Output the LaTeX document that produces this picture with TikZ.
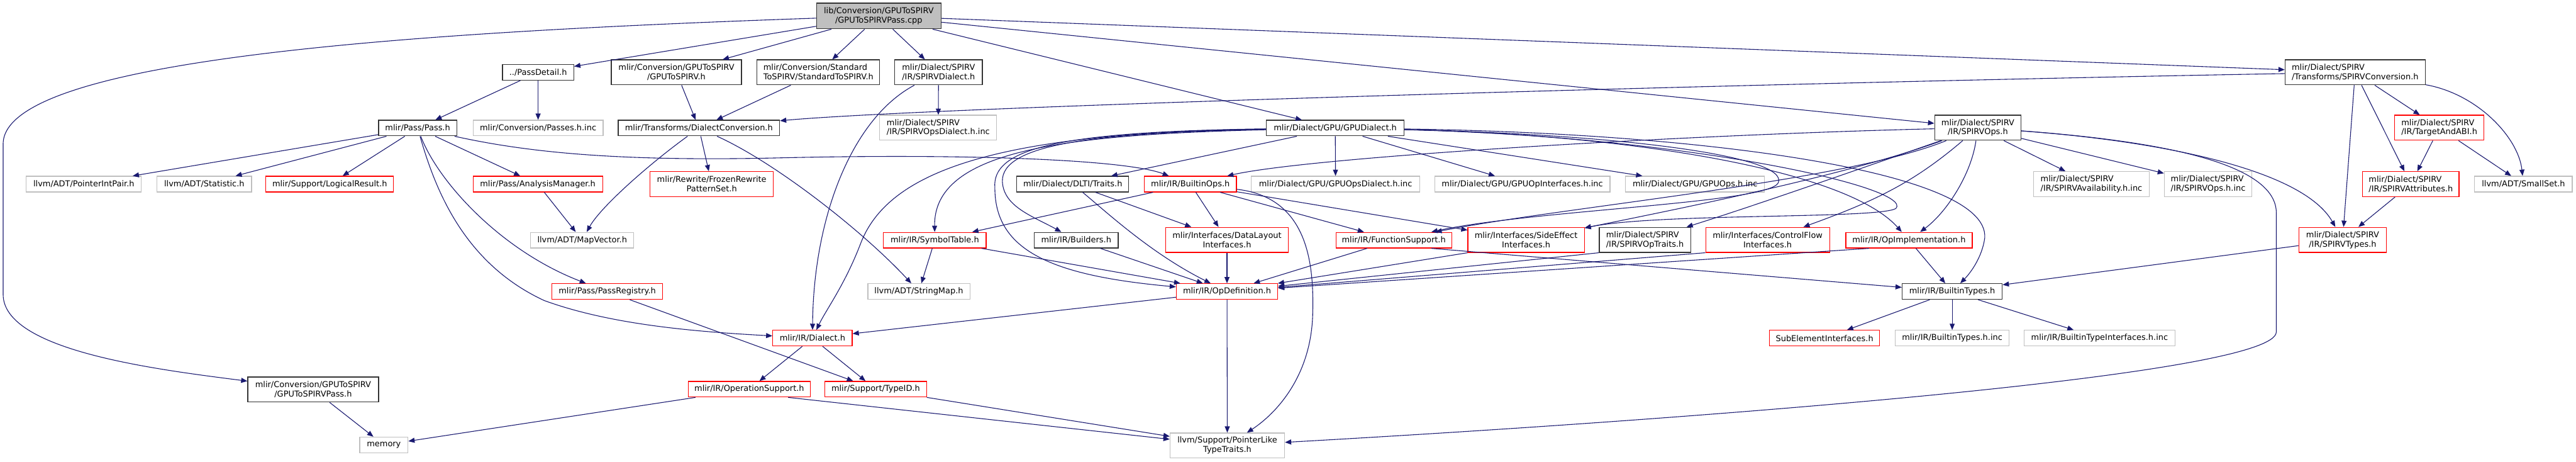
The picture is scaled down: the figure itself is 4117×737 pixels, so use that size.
\documentclass[tikz,border=0pt]{standalone}
\usepackage{fontspec}
\setmainfont{DejaVu Sans}
\usetikzlibrary{arrows.meta}
\definecolor{edgeblue}{HTML}{191970}
\definecolor{greyb}{HTML}{BFBFBF}
\definecolor{darkb}{HTML}{333333}
\begin{document}
\begin{tikzpicture}[x=1pt,y=-1pt,
  nbox/.style={rectangle, inner sep=0pt, align=center, line width=1.2pt, font=\fontsize{13}{15}\selectfont},
  blk/.style={nbox, draw=darkb},
  gry/.style={nbox, draw=greyb},
  rd/.style={nbox, draw=red},
  lft/.style={align=left},
  one/.style={minimum height=25},
  two/.style={minimum height=40},
  dep/.style={draw=edgeblue, line width=1.1pt, -{Triangle[length=10pt,width=8pt]}},
]
\useasboundingbox (0,0) rectangle (4117,737);

% ---- nodes ----
\node[blk, fill=greyb, minimum width=199, minimum height=41] (main) at (1404.5,25.5) {lib/Conversion/GPUToSPIRV\\/GPUToSPIRVPass.cpp};
\node[blk, one, minimum width=114] (pdet) at (860,115.5) {../PassDetail.h};
\node[blk, two, minimum width=208] (g2sh) at (1081,115.5) {mlir/Conversion/GPUToSPIRV\\/GPUToSPIRV.h};
\node[blk, two, lft, minimum width=196] (s2s) at (1308,115.5) {mlir/Conversion/Standard\\ToSPIRV/StandardToSPIRV.h};
\node[blk, two, lft, minimum width=140] (spd) at (1500,115.5) {mlir/Dialect/SPIRV\\/IR/SPIRVDialect.h};
\node[blk, two, lft, minimum width=224] (spconv) at (3764,115.5) {mlir/Dialect/SPIRV\\/Transforms/SPIRVConversion.h};

\node[blk, one, minimum width=125] (pass) at (667.5,204.5) {mlir/Pass/Pass.h};
\node[gry, one, minimum width=208] (passinc) at (860,204.5) {mlir/Conversion/Passes.h.inc};
\node[blk, one, minimum width=258] (dconv) at (1117,204.5) {mlir/Transforms/DialectConversion.h};
\node[gry, two, lft, minimum width=187] (spodinc) at (1499.5,204) {mlir/Dialect/SPIRV\\/IR/SPIRVOpsDialect.h.inc};
\node[blk, one, minimum width=220] (gpud) at (2134,204.5) {mlir/Dialect/GPU/GPUDialect.h};
\node[blk, two, minimum width=138] (spops) at (3161,204) {mlir/Dialect/SPIRV\\/IR/SPIRVOps.h};
\node[rd, two, lft, minimum width=143] (tabi) at (3898.5,204) {mlir/Dialect/SPIRV\\/IR/TargetAndABI.h};

\node[gry, one, minimum width=184] (pip) at (134,294) {llvm/ADT/PointerIntPair.h};
\node[gry, one, minimum width=151] (stat) at (326.5,294) {llvm/ADT/Statistic.h};
\node[rd, one, minimum width=204] (lres) at (527,294) {mlir/Support/LogicalResult.h};
\node[rd, one, minimum width=207] (anmgr) at (859.5,294) {mlir/Pass/AnalysisManager.h};
\node[rd, two, minimum width=197] (frozen) at (1137.5,294) {mlir/Rewrite/FrozenRewrite\\PatternSet.h};
\node[blk, one, minimum width=179] (dlti) at (1714.5,294) {mlir/Dialect/DLTI/Traits.h};
\node[rd, one, minimum width=147] (bops) at (1902.5,294) {mlir/IR/BuiltinOps.h};
\node[gry, one, minimum width=269] (gpuodi) at (2134.5,294) {mlir/Dialect/GPU/GPUOpsDialect.h.inc};
\node[gry, one, minimum width=280] (gpuoii) at (2433,294) {mlir/Dialect/GPU/GPUOpInterfaces.h.inc};
\node[gry, one, minimum width=222] (gpuoi) at (2709,294) {mlir/Dialect/GPU/GPUOps.h.inc};
\node[gry, two, lft, minimum width=185] (spavail) at (3342.5,294) {mlir/Dialect/SPIRV\\/IR/SPIRVAvailability.h.inc};
\node[gry, two, lft, minimum width=140] (spopsinc) at (3529,294) {mlir/Dialect/SPIRV\\/IR/SPIRVOps.h.inc};
\node[rd, two, lft, minimum width=154] (spattr) at (3853,294) {mlir/Dialect/SPIRV\\/IR/SPIRVAttributes.h};
\node[gry, one, minimum width=156] (smallset) at (4033,294) {llvm/ADT/SmallSet.h};

\node[gry, one, minimum width=165] (mapvec) at (930.5,383.5) {llvm/ADT/MapVector.h};
\node[rd, one, minimum width=164] (symtab) at (1494,383.5) {mlir/IR/SymbolTable.h};
\node[blk, one, minimum width=134] (builders) at (1720,383.5) {mlir/IR/Builders.h};
\node[rd, two, minimum width=196] (dlayout) at (1961,383) {mlir/Interfaces/DataLayout\\Interfaces.h};
\node[rd, one, minimum width=185] (funcsup) at (2227.5,383.5) {mlir/IR/FunctionSupport.h};
\node[rd, two, minimum width=186] (sideeff) at (2439,383) {mlir/Interfaces/SideEffect\\Interfaces.h};
\node[blk, two, lft, minimum width=146] (sptraits) at (2629,383) {mlir/Dialect/SPIRV\\/IR/SPIRVOpTraits.h};
\node[rd, two, minimum width=198] (ctrlflow) at (2825,383) {mlir/Interfaces/ControlFlow\\Interfaces.h};
\node[rd, one, minimum width=202] (opimpl) at (3051,383.5) {mlir/IR/OpImplementation.h};
\node[rd, two, minimum width=140] (sptypes) at (3744,383) {mlir/Dialect/SPIRV\\/IR/SPIRVTypes.h};

\node[rd, one, minimum width=177] (passreg) at (970.5,465.5) {mlir/Pass/PassRegistry.h};
\node[gry, one, minimum width=163] (strmap) at (1468.5,465.5) {llvm/ADT/StringMap.h};
\node[rd, one, minimum width=162] (opdef) at (1961,465.5) {mlir/IR/OpDefinition.h};
\node[blk, one, minimum width=160] (btypes) at (3120,465.5) {mlir/IR/BuiltinTypes.h};

\node[rd, one, minimum width=127] (dialect) at (1298.5,540) {mlir/IR/Dialect.h};
\node[rd, one, minimum width=176] (subel) at (2916,540) {SubElementInterfaces.h};
\node[gry, one, minimum width=182] (btinc) at (3120,540) {mlir/IR/BuiltinTypes.h.inc};
\node[gry, one, minimum width=241] (btiinc) at (3355.5,540) {mlir/IR/BuiltinTypeInterfaces.h.inc};

\node[blk, two, minimum width=209] (g2sp) at (500.5,622) {mlir/Conversion/GPUToSPIRV\\/GPUToSPIRVPass.h};
\node[rd, one, minimum width=195] (opsup) at (1197.5,621.5) {mlir/IR/OperationSupport.h};
\node[rd, one, minimum width=163] (typeid) at (1399.5,621.5) {mlir/Support/TypeID.h};
\node[gry, one, minimum width=77] (memory) at (613.5,710.5) {memory};
\node[gry, two, minimum width=183] (ptrlike) at (1961.5,711.5) {llvm/Support/PointerLike\\TypeTraits.h};

% ---- edges ----
\draw[dep] (main) .. controls (700,50) and (5,90) .. (5,230) -- (5,470) .. controls (5,560) and (250,590) .. (g2sp);
\draw[dep] (main) -- (pdet);
\draw[dep] (main) -- (g2sh);
\draw[dep] (main) -- (s2s);
\draw[dep] (main) -- (spd);
\draw[dep] (main) -- (gpud);
\draw[dep] (main) -- (spops);
\draw[dep] (main) -- (spconv);

\draw[dep] (pdet) -- (pass);
\draw[dep] (pdet) -- (passinc);
\draw[dep] (g2sh) -- (dconv);
\draw[dep] (s2s) -- (dconv);
\draw[dep] (spd) -- (spodinc);
\draw[dep] (spd) .. controls (1360,190) and (1300,350) .. (dialect);

\draw[dep] (spconv) .. controls (2800,133) and (1500,170) .. (dconv);
\draw[dep] (spconv) -- (sptypes);
\draw[dep] (spconv) -- (spattr);
\draw[dep] (spconv) -- (tabi);
\draw[dep] (spconv) .. controls (3960,150) and (4025,220) .. (smallset);
\draw[dep] (tabi) -- (spattr);
\draw[dep] (tabi) -- (smallset);
\draw[dep] (spattr) -- (sptypes);

\draw[dep] (pass) -- (pip);
\draw[dep] (pass) -- (stat);
\draw[dep] (pass) -- (lres);
\draw[dep] (pass) -- (anmgr);
\draw[dep] (pass) .. controls (700,290) and (800,400) .. (passreg);
\draw[dep] (pass) .. controls (695,300) and (740,420) .. (870,480) .. controls (980,520) and (1120,530) .. (dialect);
\draw[dep] (pass) .. controls (850,245) and (1000,258) .. (1250,252) .. controls (1550,245) and (1800,255) .. (bops);

\draw[dep] (dconv) .. controls (1040,260) and (960,330) .. (mapvec);
\draw[dep] (dconv) -- (frozen);
\draw[dep] (dconv) .. controls (1240,260) and (1380,370) .. (strmap);
\draw[dep] (anmgr) -- (mapvec);
\draw[dep] (passreg) -- (typeid);
\draw[dep] (dialect) -- (opsup);
\draw[dep] (dialect) -- (typeid);
\draw[dep] (opsup) -- (memory);
\draw[dep] ([xshift=62pt]opsup.south) -- (ptrlike);
\draw[dep] (typeid) -- (ptrlike);
\draw[dep] (g2sp) -- (memory);

\draw[dep] (gpud) -- (dlti);
\draw[dep] (gpud) -- (gpuodi);
\draw[dep] (gpud) -- (gpuoii);
\draw[dep] (gpud) -- (gpuoi);
\draw[dep] (gpud) .. controls (1600,212) and (1420,270) .. (1375,390) .. controls (1350,455) and (1320,495) .. (dialect);
\draw[dep] (gpud) .. controls (1700,215) and (1492,240) .. (symtab);
\draw[dep] (gpud) .. controls (1750,212) and (1600,230) .. (1602,290) .. controls (1604,330) and (1650,345) .. (builders);
\draw[dep] (gpud) .. controls (1680,210) and (1585,240) .. (1590,300) .. controls (1590,400) and (1680,440) .. (opdef);
\draw[dep] (gpud) .. controls (2600,215) and (2860,250) .. (2842,292) .. controls (2825,325) and (2450,335) .. (funcsup);
\draw[dep] (gpud) .. controls (2700,218) and (3060,300) .. (3030,333) .. controls (3000,350) and (2650,340) .. (sideeff);
\draw[dep] (gpud) .. controls (2600,215) and (2950,270) .. (opimpl);
\draw[dep] (gpud) .. controls (2700,212) and (3180,270) .. (3172,380) .. controls (3168,410) and (3150,435) .. (btypes);

\draw[dep] (spops) .. controls (2700,215) and (2100,250) .. (bops);
\draw[dep] (spops) .. controls (3000,260) and (2800,330) .. (sptraits);
\draw[dep] (spops) .. controls (2950,280) and (2700,330) .. (sideeff);
\draw[dep] (spops) .. controls (2950,290) and (2500,330) .. (funcsup);
\draw[dep] (spops) .. controls (3060,290) and (3000,320) .. (ctrlflow);
\draw[dep] (spops) .. controls (3150,280) and (3110,340) .. (opimpl);
\draw[dep] (spops) -- (spavail);
\draw[dep] (spops) -- (spopsinc);
\draw[dep] (spops) .. controls (3450,225) and (3680,270) .. (sptypes);
\draw[dep] (spops) .. controls (3450,225) and (3638,260) .. (3638,340) -- (3638,530) .. controls (3638,600) and (2700,670) .. (ptrlike);

\draw[dep] (bops) -- (symtab);
\draw[dep] (bops) -- (dlayout);
\draw[dep] (bops) -- (funcsup);
\draw[dep] (bops) -- (sideeff);
\draw[dep] (bops) .. controls (2090,315) and (2100,420) .. (2098,500) .. controls (2096,600) and (2040,660) .. (ptrlike);

\draw[dep] (dlti) -- (dlayout);
\draw[dep] (dlti) .. controls (1770,340) and (1840,405) .. (opdef);

\draw[dep] (symtab) -- (strmap);
\draw[dep] (symtab) -- (opdef);
\draw[dep] (builders) -- (opdef);
\draw[dep] (dlayout) -- (opdef);
\draw[dep] (funcsup) -- (opdef);
\draw[dep] ([xshift=-33pt]funcsup.south east) -- (btypes);
\draw[dep] (sideeff.south west) -- (opdef);
\draw[dep] (sptraits.south west) -- (opdef);
\draw[dep] (ctrlflow.south west) -- (opdef);
\draw[dep] ([xshift=38pt]opimpl.south west) -- (opdef);
\draw[dep] (opimpl) -- (btypes);
\draw[dep] (opdef) -- (ptrlike);
\draw[dep] (opdef) -- (dialect);
\draw[dep] (sptypes) -- (btypes);
\draw[dep] (btypes) -- (subel);
\draw[dep] (btypes) -- (btinc);
\draw[dep] (btypes) -- (btiinc);
\end{tikzpicture}
\end{document}
